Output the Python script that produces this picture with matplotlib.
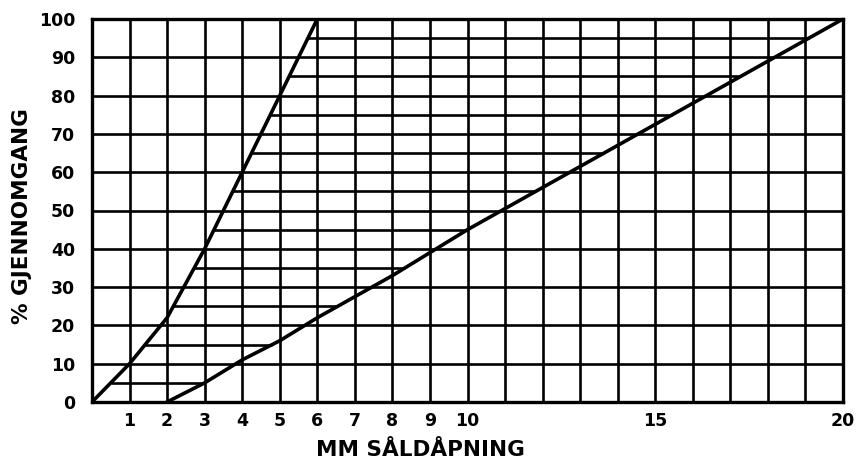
import numpy as np
import matplotlib
matplotlib.use("Agg")
import matplotlib.pyplot as plt

# Grading envelope (sieve opening mm vs % passing)
fine_mm = [0, 1, 2, 3, 4, 5, 6]
fine_pct = [0, 10, 22, 40, 60, 80, 100]
coarse_mm = [2, 3, 4, 5, 6, 7, 8, 9, 10, 15, 20]
coarse_pct = [0, 5, 11, 16, 22, 27.5, 33, 39, 45, 72.5, 100]
hatch_levels = [5, 15, 25, 35, 45, 55, 65, 75, 85, 95]
x_ticks = [1, 2, 3, 4, 5, 6, 7, 8, 9, 10, 15, 20]
x_tick_labels = ["1", "2", "3", "4", "5", "6", "7", "8", "9", "10", "15", "20"]
y_ticks = [0, 10, 20, 30, 40, 50, 60, 70, 80, 90, 100]

plt.rcParams['font.family'] = ['DejaVu Sans']

fig = plt.figure(figsize=(8.56, 4.62), dpi=100)
ax = fig.add_axes([92/856, 1-402/462, (843-92)/856, (402-19)/462])
ax.set_xlim(0, 20)
ax.set_ylim(0, 100)

# grid
ax.set_xticks(np.arange(0, 21, 1), minor=True)
ax.set_xticks(x_ticks)
ax.set_xticklabels(x_tick_labels)
ax.set_yticks(y_ticks)
ax.grid(True, which='both', color='black', linewidth=1.9)
ax.set_axisbelow(True)
ax.tick_params(which='both', length=0)
ax.tick_params(axis='x', pad=7, labelsize=12.5)
ax.tick_params(axis='y', pad=12, labelsize=12.5)
for lab in ax.get_xticklabels() + ax.get_yticklabels():
    lab.set_fontweight('bold')

for s in ax.spines.values():
    s.set_linewidth(2.4)

# hatch lines between curves
x_left = np.interp(hatch_levels, fine_pct, fine_mm)
x_right = np.interp(hatch_levels, coarse_pct, coarse_mm)
ax.hlines(hatch_levels, x_left, x_right, color='black', linewidth=1.9)

# curves
ax.plot(fine_mm, fine_pct, color='black', linewidth=2.6, solid_joinstyle='round')
ax.plot(coarse_mm, coarse_pct, color='black', linewidth=2.6, solid_joinstyle='round')

fig.text(420/856, 1-450/462, "MM SÅLDÅPNING", ha='center', va='center',
         fontsize=15.5, fontweight='bold')
fig.text(22/856, 1-216/462, "% GJENNOMGANG", ha='center', va='center',
         rotation=90, fontsize=15.5, fontweight='bold')

fig.savefig("out.png", dpi=100)
